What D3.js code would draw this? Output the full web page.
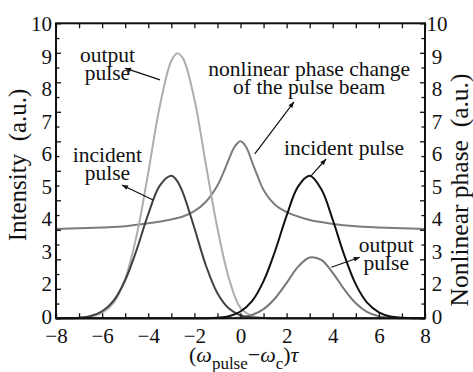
<!DOCTYPE html>
<html>
<head>
<meta charset="utf-8">
<script src="https://cdn.jsdelivr.net/npm/d3@7"></script>
<style>
  body { margin: 0; background: #fff; }
  svg { display: block; font-family: "Liberation Serif", "Times New Roman", serif; }
</style>
</head>
<body>
<div id="chart"></div>
<script>
// detuning samples shared by the four pulse curves
const detuning = [-8, -7.5, -7, -6.5, -6, -5.5, -5, -4.5, -4, -3.5, -3, -2.75, -2.5, -2, -1.5, -1, -0.5,
                  0, 0.5, 1, 1.5, 2, 2.5, 3, 3.5, 4, 4.5, 5, 5.5, 6, 6.5, 7, 7.5, 8];

const outputLeft = [0, 0, 0.01, 0.05, 0.18, 0.53, 1.34, 2.82, 4.94, 7.19, 8.73, 8.98, 8.82, 7.43, 5.21, 3.05, 1.35,
                    0.35, 0.08, 0.02, 0, 0, 0, 0, 0, 0, 0, 0, 0, 0, 0, 0, 0, 0];
const incidentLeft = [0, 0, 0.02, 0.08, 0.24, 0.6, 1.29, 2.33, 3.53, 4.5, 4.83, 4.66, 4.26, 3.06, 1.79, 0.85, 0.33,
                      0.1, 0.03, 0.01, 0, 0, 0, 0, 0, 0, 0, 0, 0, 0, 0, 0, 0, 0];
const incidentRight = [0, 0, 0, 0, 0, 0, 0, 0, 0, 0, 0, 0, 0, 0, 0, 0.02, 0.07,
                       0.23, 0.58, 1.26, 2.28, 3.48, 4.47, 4.83, 4.38, 3.34, 2.14, 1.15, 0.52, 0.2, 0.06, 0.02, 0, 0];
const outputRight = [0, 0, 0, 0, 0, 0, 0, 0, 0, 0, 0, 0, 0, 0, 0, 0, 0.01,
                     0.03, 0.11, 0.31, 0.68, 1.2, 1.75, 2.06, 1.98, 1.54, 0.98, 0.51, 0.21, 0.07, 0.02, 0, 0, 0];

// nonlinear phase curve (own sampling, denser near the peak)
const phaseX = [-8, -7, -6, -5, -4, -3, -2.5, -2, -1.5, -1, -0.75, -0.5, -0.25, 0,
                0.25, 0.5, 0.75, 1, 1.5, 2, 2.5, 3, 4, 5, 6, 7, 8];
const phase = [3.03, 3.05, 3.08, 3.12, 3.22, 3.35, 3.45, 3.63, 3.95, 4.5, 4.92, 5.4, 5.82, 6.0,
               5.8, 5.3, 4.8, 4.35, 3.85, 3.6, 3.45, 3.33, 3.2, 3.12, 3.08, 3.05, 3.03];

const xTicks = [-8, -6, -4, -2, 0, 2, 4, 6, 8];
const yLabels = ['10', '9', '8', '7', '6', '5', '4', '3', '2', '0'];

const FONT = '"Liberation Serif", "Times New Roman", serif';
const width = 473, height = 372;
const margin = { top: 23.3, right: 48, bottom: 53.7, left: 56 };

const svg = d3.select('#chart').append('svg')
  .attr('width', width)
  .attr('height', height);

const x = d3.scaleLinear().domain([-8, 8]).range([margin.left, width - margin.right]);
const y = d3.scaleLinear().domain([0, 10]).range([height - margin.bottom, margin.top]);

svg.append('defs').append('marker')
  .attr('id', 'arrow')
  .attr('viewBox', '0 0 10 10')
  .attr('refX', 10).attr('refY', 5)
  .attr('markerWidth', 7).attr('markerHeight', 6)
  .attr('markerUnits', 'userSpaceOnUse')
  .attr('orient', 'auto')
  .append('path').attr('d', 'M0,1L10,5L0,9Z').attr('fill', '#111');

// curves
const line = d3.line().curve(d3.curveCatmullRom.alpha(0.5));
const curves = [
  { xs: phaseX, ys: phase, color: '#7c7c7c' },
  { xs: detuning, ys: outputLeft, color: '#adadad' },
  { xs: detuning, ys: outputRight, color: '#777777' },
  { xs: detuning, ys: incidentLeft, color: '#404040' },
  { xs: detuning, ys: incidentRight, color: '#111111' }
];
curves.forEach(c => {
  svg.append('path')
    .attr('d', line(c.xs.map((d, i) => [x(d), y(Math.max(0, c.ys[i]))])))
    .attr('fill', 'none')
    .attr('stroke', c.color)
    .attr('stroke-width', 2);
});

// ticks (all pointing inward)
const tickStyle = g => g.call(s => s.select('.domain').remove())
  .selectAll('line').attr('stroke', '#111').attr('stroke-width', 1.3);
const xInt = d3.range(-8, 8.01, 1);
const yMaj = d3.range(0, 10.01, 1);
const yMin = d3.range(0.5, 10, 1);

svg.append('g').attr('transform', `translate(0,${y(0)})`)
  .call(d3.axisBottom(x).tickValues(xInt).tickSize(-5).tickFormat(''))
  .call(tickStyle);
svg.append('g').attr('transform', `translate(0,${y(10)})`)
  .call(d3.axisTop(x).tickValues(xInt).tickSize(-5).tickFormat(''))
  .call(tickStyle);
[[d3.axisLeft, x(-8)], [d3.axisRight, x(8)]].forEach(([axis, pos]) => {
  svg.append('g').attr('transform', `translate(${pos},0)`)
    .call(axis(y).tickValues(yMaj).tickSize(-5).tickFormat(''))
    .call(tickStyle);
  svg.append('g').attr('transform', `translate(${pos},0)`)
    .call(axis(y).tickValues(yMin).tickSize(-3.5).tickFormat(''))
    .call(tickStyle);
});

// frame
svg.append('rect')
  .attr('x', x(-8)).attr('y', y(10))
  .attr('width', x(8) - x(-8)).attr('height', y(0) - y(10))
  .attr('fill', 'none').attr('stroke', '#111').attr('stroke-width', 2);

// x tick labels
svg.append('g').attr('transform', `translate(0,${y(0)})`)
  .call(d3.axisBottom(x).tickValues(xTicks).tickSize(0).tickPadding(10)
    .tickFormat(d => d < 0 ? '\u2212' + Math.abs(d) : d))
  .call(g => g.select('.domain').remove())
  .selectAll('text')
  .attr('font-family', FONT)
  .attr('font-size', 21)
  .attr('fill', '#111');

// y tick labels, spread evenly between top and bottom as in the source
const yl = d3.scalePoint().domain(yLabels).range([y(10) + 0.7, y(0) - 1.8]);
svg.append('g').selectAll('text').data(yLabels).join('text')
  .attr('x', x(-8) - 4).attr('y', d => yl(d)).attr('dy', '0.34em')
  .attr('text-anchor', 'end').attr('font-size', 21).attr('fill', '#111')
  .text(d => d);
svg.append('g').selectAll('text').data(yLabels).join('text')
  .attr('x', x(8) + 12).attr('y', d => yl(d)).attr('dy', '0.34em')
  .attr('text-anchor', 'middle').attr('font-size', 21).attr('fill', '#111')
  .text(d => d);

// axis titles
svg.append('text')
  .attr('transform', `translate(26,165) rotate(-90)`)
  .attr('text-anchor', 'middle').attr('font-size', 25).attr('fill', '#111')
  .attr('xml:space', 'preserve')
  .text('Intensity  (a.u.)');
svg.append('text')
  .attr('transform', `translate(468,190) rotate(-90)`)
  .attr('text-anchor', 'middle').attr('font-size', 25.5).attr('fill', '#111')
  .attr('xml:space', 'preserve')
  .text('Nonlinear phase  (a.u.)');

const xt = svg.append('text')
  .attr('x', 189).attr('y', 362)
  .attr('font-size', 22).attr('fill', '#111');
xt.append('tspan').text('(');
xt.append('tspan').attr('font-style', 'italic').text('\u03c9');
xt.append('tspan').attr('font-size', 17).attr('dy', 7).text('pulse');
xt.append('tspan').attr('dy', -7).text('\u2212');
xt.append('tspan').attr('font-style', 'italic').text('\u03c9');
xt.append('tspan').attr('font-size', 17).attr('dy', 7).text('c');
xt.append('tspan').attr('dy', -7).text(')');
xt.append('tspan').attr('font-style', 'italic').text('\u03c4');

// annotations: label lines (data coords) and arrow from curve to label
const notes = [
  { lines: ['output', 'pulse'], at: [-5.77, 8.69], gap: 0.62, from: [-3.49, 8.08], to: [-5.01, 8.48] },
  { lines: ['incident', 'pulse'], at: [-5.77, 5.31], gap: 0.62, from: [-3.79, 4.01], to: [-5.14, 4.52] },
  { lines: ['nonlinear phase change', 'of the pulse beam'], at: [2.98, 8.21], gap: 0.62, from: [0.62, 5.57], to: [2.32, 7.34] },
  { lines: ['incident pulse'], at: [4.49, 5.54], gap: 0, from: [3.06, 4.83], to: [3.71, 5.4] },
  { lines: ['output', 'pulse'], at: [6.32, 2.26], gap: 0.62, from: [3.94, 1.73], to: [5.17, 2.07] }
];
notes.forEach(n => {
  n.lines.forEach((t, i) => {
    svg.append('text')
      .attr('x', x(n.at[0])).attr('y', y(n.at[1] - i * n.gap))
      .attr('text-anchor', 'middle').attr('font-size', 21.5).attr('fill', '#111')
      .text(t);
  });
  svg.append('line')
    .attr('x1', x(n.from[0])).attr('y1', y(n.from[1]))
    .attr('x2', x(n.to[0])).attr('y2', y(n.to[1]))
    .attr('stroke', '#111').attr('stroke-width', 1.2)
    .attr('marker-end', 'url(#arrow)');
});
</script>
</body>
</html>
